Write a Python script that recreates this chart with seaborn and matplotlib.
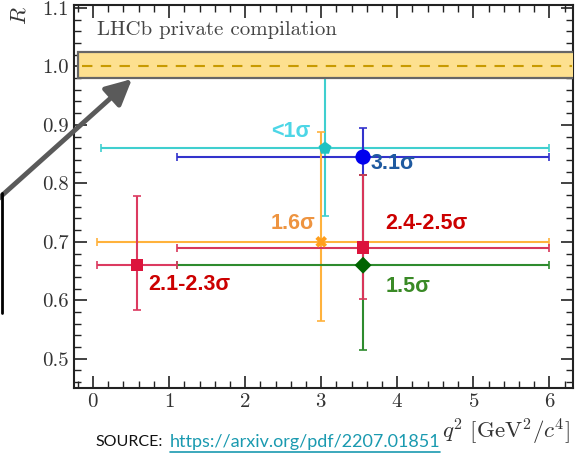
import numpy as np
import pandas as pd
import matplotlib
matplotlib.use("Agg")
import matplotlib.pyplot as plt
import seaborn as sns
from matplotlib.patches import Rectangle
from matplotlib.ticker import MultipleLocator, FormatStrFormatter

# ---- data ----
labels = ["cyan", "blue", "orange", "green", "red_hi", "red_lo"]
q2 = [3.05, 3.55, 3.0, 3.55, 3.55, 0.575]
R = [0.86, 0.845, 0.70, 0.66, 0.69, 0.66]
xerr_lo = [2.95, 2.45, 2.95, 2.45, 2.45, 0.525]
xerr_hi = [2.95, 2.45, 3.0, 2.45, 2.45, 0.525]
yerr_lo = [0.115, 0.031, 0.136, 0.145, 0.088, 0.077]
yerr_hi = [0.16, 0.05, 0.188, 0.154, 0.124, 0.118]
markers = ["p", "o", "X", "D", "s", "s"]
line_colors = ["#3fcfcf", "#3333cc", "#ffb23c", "#2e8b2e", "#d8365a", "#dc3a60"]
marker_colors = ["#1fc2c2", "#0000ee", "#ff9f1c", "#006400", "#dc143c", "#dc143c"]
marker_sizes = [95, 120, 70, 75, 80, 80]

sig_texts = ["<1σ", "3.1σ", "1.6σ", "2.4-2.5σ", "2.1-2.3σ", "1.5σ"]
sig_x = [2.6, 3.94, 2.63, 4.38, 1.27, 4.14]
sig_y = [0.888, 0.834, 0.732, 0.732, 0.627, 0.624]
sig_colors = ["#4dd6e6", "#1f5aa0", "#ee9440", "#cc0000", "#cc0000", "#3a8a26"]

band_lo, band_hi = 0.98, 1.025

df = pd.DataFrame({"label": labels, "q2": q2, "R": R})

sns.set_theme(style="ticks")
plt.rcParams["mathtext.fontset"] = "cm"
plt.rcParams["font.family"] = ["cmr10", "DejaVu Serif"]
plt.rcParams["axes.formatter.use_mathtext"] = True

fig = plt.figure(figsize=(5.86, 4.54), dpi=100)
ax = fig.add_axes([74 / 586, 66 / 454, (573 - 74) / 586, (449 - 66) / 454])

for i in range(len(labels)):
    ax.errorbar(q2[i], R[i],
                xerr=[[xerr_lo[i]], [xerr_hi[i]]],
                yerr=[[yerr_lo[i]], [yerr_hi[i]]],
                fmt="none", ecolor=line_colors[i], elinewidth=1.5,
                capsize=3, capthick=1.2, zorder=2)

sns.scatterplot(data=df, x="q2", y="R", hue="label", style="label",
                markers=dict(zip(labels, markers)),
                palette=dict(zip(labels, marker_colors)),
                size="label", sizes=dict(zip(labels, marker_sizes)),
                linewidth=0, legend=False, ax=ax, zorder=3)

# SM band
ax.add_patch(Rectangle((-0.2, band_lo), 6.6, band_hi - band_lo,
                       facecolor="#fde08f", edgecolor="#666666", lw=1.6,
                       zorder=4, clip_on=True))
ax.plot([-0.15, 6.3], [1.0, 1.0], ls=(0, (5, 4)), color="#c89a00", lw=1.5, zorder=5)

for t, x, y, c in zip(sig_texts, sig_x, sig_y, sig_colors):
    ax.text(x, y, t, color=c, fontsize=15.5, fontweight="bold",
            family=["Liberation Sans", "DejaVu Sans"], ha="center", va="center", zorder=6)

ax.text(0.05, 1.062, "LHCb private compilation", fontsize=15, color="#444444",
        ha="left", va="center", zorder=6)

ax.set_xlim(-0.25, 6.31)
ax.set_ylim(0.45, 1.105)
ax.xaxis.set_major_locator(MultipleLocator(1))
ax.xaxis.set_minor_locator(MultipleLocator(0.2))
ax.yaxis.set_major_locator(MultipleLocator(0.1))
ax.yaxis.set_minor_locator(MultipleLocator(0.02))
ax.yaxis.set_major_formatter(FormatStrFormatter("%.1f"))
ax.tick_params(which="both", direction="in", top=True, right=True, colors="#222222",
               labelcolor="#333333", labelsize=15)
ax.tick_params(which="major", length=9, width=1.2)
ax.tick_params(which="minor", length=5, width=1.0)
for s in ax.spines.values():
    s.set_linewidth(1.5)
    s.set_color("#222222")
ax.set_xlabel("")
ax.set_ylabel("")

fig.text(20 / 586, 1 - 16 / 454, r"$R$", rotation=90, fontsize=16, color="#333333",
         ha="center", va="center")
fig.text(506 / 586, 1 - 432 / 454, r"$q^2\ [\mathrm{GeV}^2/c^4]$", fontsize=16.5,
         color="#333333", ha="center", va="center")

fig.text(95 / 586, 1 - 442 / 454, "SOURCE:", fontsize=11.5, family=["Lato", "DejaVu Sans"],
         color="#111111", ha="left", va="center")
fig.text(170 / 586, 1 - 442 / 454, "https://arxiv.org/pdf/2207.01851", fontsize=13,
         family=["Lato", "DejaVu Sans"], color="#1a9ab0", ha="left", va="center")
fig.add_artist(plt.Line2D([170 / 586, 440 / 586], [1 - 452 / 454, 1 - 452 / 454],
                          color="#1a9ab0", lw=1.2))

# arrow and box edge at left
fig.add_artist(plt.Line2D([2 / 586, 2 / 586], [1 - 193 / 454, 1 - 313 / 454],
                          color="black", lw=2))
ax.annotate("", xy=(132, 454 - 79), xycoords="figure pixels",
            xytext=(-2, 454 - 199), textcoords="figure pixels",
            arrowprops=dict(arrowstyle="-|>,head_length=1.3,head_width=0.65",
                            color="#5a5a5a", lw=3.5, shrinkA=0, shrinkB=0),
            annotation_clip=False, zorder=10)

fig.savefig("out.png", dpi=100)
